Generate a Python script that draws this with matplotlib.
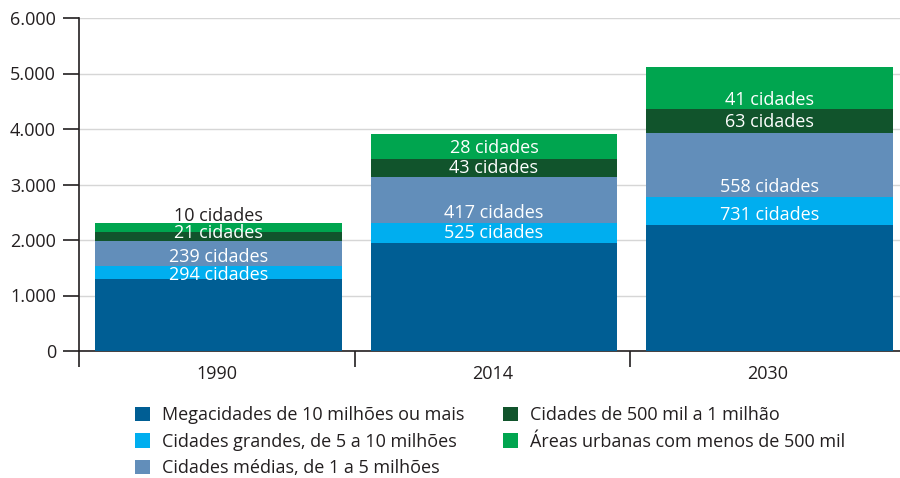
import matplotlib.pyplot as plt
from matplotlib.ticker import FuncFormatter, FixedLocator
from matplotlib.patches import Patch

plt.rcParams['font.family'] = ['Open Sans', 'DejaVu Sans']

years = ["1990", "2014", "2030"]
series_names = [
    "Megacidades de 10 milhões ou mais",
    "Cidades grandes, de 5 a 10 milhões",
    "Cidades médias, de 1 a 5 milhões",
    "Cidades de 500 mil a 1 milhão",
    "Áreas urbanas com menos de 500 mil",
]
# population (millions) per size class, bottom to top
mega = [1300, 1945, 2270]
grandes = [240, 360, 500]
medias = [450, 830, 1160]
quinhentos = [155, 325, 430]
menores = [165, 450, 765]
series_values = [mega, grandes, medias, quinhentos, menores]

# city counts written on the bars, top to bottom
bar_labels = [
    ["10 cidades", "21 cidades", "239 cidades", "294 cidades"],
    ["28 cidades", "43 cidades", "417 cidades", "525 cidades"],
    ["41 cidades", "63 cidades", "558 cidades", "731 cidades"],
]

colors = ["#005e94", "#00aeef", "#628eba", "#11542c", "#00a54f"]
ink = "#231f20"

# where the count labels sit (placement only)
label_y = [
    [2430, 2120, 1690, 1375],
    [3650, 3300, 2490, 2120],
    [4520, 4130, 2960, 2450],
]
label_color = [[ink, "white", "white", "white"],
               ["white"] * 4,
               ["white"] * 4]

fig = plt.figure(figsize=(9, 4.78), dpi=100)
ax = fig.add_axes([79 / 900, 1 - 351 / 478, (900 - 79) / 900, 333 / 478])

x = list(range(len(years)))
bottom = [0] * len(years)
for vals, col, name in zip(series_values, colors, series_names):
    ax.bar([i + 0.006 for i in x], vals, bottom=bottom, width=0.895, color=col, label=name, zorder=3)
    bottom = [b + v for b, v in zip(bottom, vals)]

for i in x:
    for txt, yy, c in zip(bar_labels[i], label_y[i], label_color[i]):
        ax.text(i + 0.006, yy, txt, ha="center", va="center", color=c, fontsize=13, zorder=4)

ax.set_xlim(-0.5, 2.48)
ax.set_ylim(0, 6000)
ax.set_yticks(range(0, 6001, 1000))
ax.yaxis.set_major_formatter(FuncFormatter(lambda v, p: f"{int(v):,}".replace(",", ".")))
ax.grid(axis="y", color="#d6d6d6", linewidth=1, zorder=0)

ax.set_xticks(x)
ax.set_xticklabels(years)
ax.xaxis.set_minor_locator(FixedLocator([-0.5, 0.5, 1.5]))
ax.tick_params(axis="x", which="major", length=0, pad=10, labelsize=13, labelcolor=ink)
ax.tick_params(axis="x", which="minor", length=11.5, width=1.2, color=ink, direction="out")
ax.tick_params(axis="y", length=11.5, width=1.2, color=ink, pad=5, labelsize=13, labelcolor=ink)

for s in ["top", "right"]:
    ax.spines[s].set_visible(False)
for s in ["left", "bottom"]:
    ax.spines[s].set_color(ink)
    ax.spines[s].set_linewidth(1.2)

handles = [Patch(facecolor=c, edgecolor="none") for c in colors]
fig.legend(handles, series_names, loc="upper left", bbox_to_anchor=(126 / 900, 1 - 397 / 478),
           ncol=2, frameon=False, fontsize=13, handlelength=0.83, handleheight=0.83,
           handletextpad=0.67, labelspacing=0.48, columnspacing=2.15, borderpad=0,
           labelcolor=ink)

fig.savefig("out.png", dpi=100)
